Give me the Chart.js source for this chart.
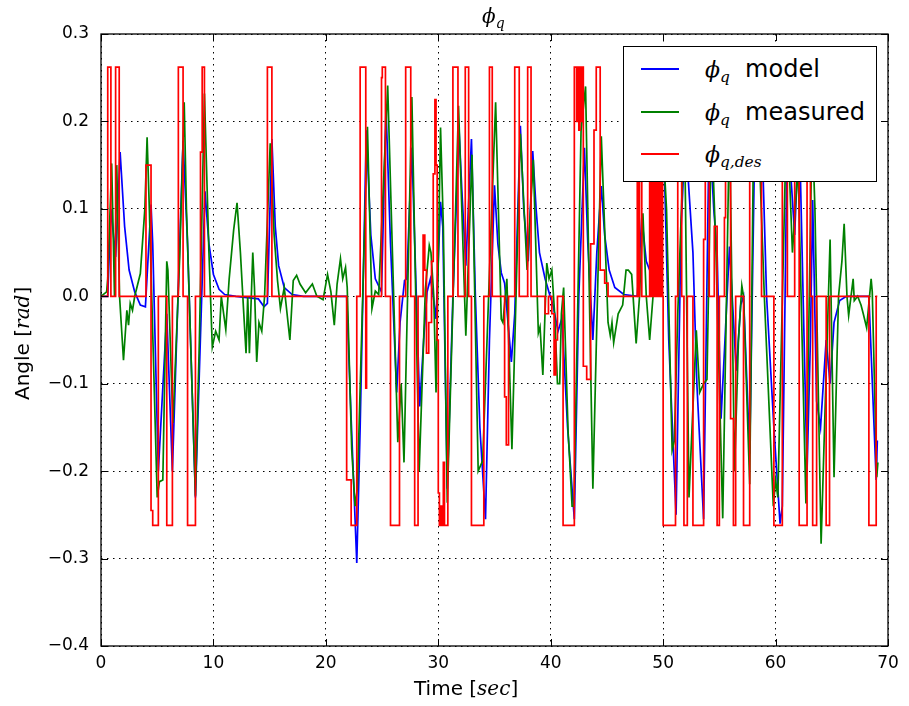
<!DOCTYPE html>
<html>
<head>
<meta charset="utf-8">
<script src="https://cdn.jsdelivr.net/npm/chart.js@4.4.1/dist/chart.umd.min.js"></script>
<style>
  html, body { margin: 0; padding: 0; background: #fff; }
  #wrap { position: relative; width: 909px; height: 706px; overflow: hidden; }
  #c { position: absolute; left: 0; top: 0; }
  .txt { position: absolute; font-family: "DejaVu Sans", sans-serif; color: #000; white-space: nowrap; line-height: 1; }
  .m { font-family: "DejaVu Serif", serif; font-style: italic; }
  .m sub { font-size: 70%; vertical-align: -0.35em; line-height: 0; }
  #legend { position: absolute; left: 623px; top: 46px; width: 254px; height: 136px;
            background: #fff; border: 1px solid #000; box-sizing: border-box; }
  .row { position: absolute; left: 0; height: 30px; width: 100%; }
  .swatch { position: absolute; left: 17px; width: 38px; height: 0; border-top: 2px solid; }
  .lab { position: absolute; left: 81px; font-size: 24px; }
  .lab .m { font-size: 22px; }
</style>
</head>
<body>
<div id="wrap">
  <canvas id="c" width="909" height="706"></canvas>
  <div class="txt" id="title" style="left:482px; top:6px; font-size:20px;"><span class="m">ϕ<sub>q</sub></span></div>
  <div class="txt" id="xlab" style="left:414px; top:678px; font-size:20px;">Time [<span class="m">sec</span>]</div>
  <div class="txt" id="ylab" style="left:-38px; top:330px; font-size:20px; transform: rotate(-90deg); transform-origin: 60px 10px;">Angle [<span class="m">rad</span>]</div>
  <div id="legend">
    <div class="row" style="top:8px;"><div class="swatch" style="top:13px; border-color:#0000ff;"></div>
      <div class="txt lab" style="top:2px;"><span class="m">ϕ<sub>q</sub></span>&nbsp; model</div></div>
    <div class="row" style="top:51px;"><div class="swatch" style="top:13px; border-color:#008000;"></div>
      <div class="txt lab" style="top:2px;"><span class="m">ϕ<sub>q</sub></span>&nbsp; measured</div></div>
    <div class="row" style="top:93px;"><div class="swatch" style="top:13px; border-color:#ff0000;"></div>
      <div class="txt lab" style="top:2px;"><span class="m">ϕ<sub>q,des</sub></span></div></div>
  </div>
</div>
<script>
// desired angle (step signal): switch times [s] and levels [rad]
const desT = [0, 0.6, 0.88, 1.3, 1.62, 4.0, 4.45, 4.6, 5.1, 5.85, 6.35, 6.88, 7.3, 7.7, 8.4, 8.85, 9.0, 9.2,
  14.8, 15.2, 21.85, 22.25, 22.75, 23.05, 23.55, 23.62, 24.95, 25.02, 25.3, 25.75, 26.55, 27.1, 27.55, 27.9, 28.2,
  28.65, 28.8, 28.95, 29.15, 29.4, 29.55, 29.7, 29.8, 29.9, 30.0, 30.1, 30.2, 30.3, 30.45, 30.55, 30.85,
  31.3, 31.75, 32.4, 32.7, 32.95, 34.05, 34.55, 34.8, 35.9, 36.05, 36.25, 36.8, 37.2, 37.95, 38.25,
  39.5, 39.8, 40.1, 40.3, 40.45, 40.6, 41.1, 42.1, 42.3, 42.4, 42.5, 42.6, 42.7, 42.8, 42.9, 43.2, 43.55, 43.85,
  44.05, 44.4, 44.8, 45.1, 47.7, 47.85, 47.9, 48.1, 48.8, 48.95, 49.05, 49.2, 49.3, 49.45, 49.55, 49.7, 49.8,
  49.95, 50.0, 51.1, 51.3, 51.65, 51.85, 52.15, 52.65, 53.6, 53.75, 54.1, 54.55, 54.8, 55.0, 55.45, 55.55,
  56.0, 56.25, 56.45, 57.15, 57.7, 58.75, 59.85, 60.6, 61.05, 61.7, 62.1, 62.8, 63.1, 63.3, 63.65, 64.5, 64.8,
  68.3, 68.95, 69.05];
const desV = [0, 0.262, 0, 0.262, 0, 0.15, -0.245, -0.262, 0, -0.262, 0, 0.262, 0, -0.262, 0, 0.165, 0.262, 0,
  0.262, 0, -0.21, -0.262, 0, 0.262, -0.105, 0, 0.25, 0.262, 0, -0.262, 0, 0.262, 0, -0.262, 0,
  0.07, 0.03, -0.065, -0.03, 0.04, 0.14, 0.225, 0.15, -0.05, -0.225, -0.262, -0.24, -0.262, -0.19, -0.262, 0,
  0.262, 0, 0.262, 0, -0.262, 0, 0.262, 0, -0.115, -0.17, 0, 0.262, 0, 0.262, 0,
  -0.02, 0, -0.02, -0.09, -0.05, 0, -0.262, 0.262, 0.2, 0.262, 0.19, 0.262, 0.2, 0.262, -0.08, -0.095, 0.06, 0.19,
  0.262, 0.03, 0.015, 0, 0.262, 0, 0.262, 0, 0.262, 0, 0.262, 0, 0.262, 0, 0.262, 0, 0.262,
  0, -0.262, 0, 0.262, 0, -0.262, 0, -0.262, 0.065, 0.262, 0, 0.08, -0.262, 0, 0.09, 0.262,
  -0.14, -0.262, 0, -0.262, 0.262, 0, -0.262, 0.262, 0, 0.262, -0.262, 0.262, 0, -0.262, 0, -0.262, 0,
  -0.262, 0, 0];

// model response
const modelT = [0, 0.6, 0.88, 1.3, 1.7, 2.1, 2.5, 3.0, 3.5, 3.95, 4.45, 4.6, 5.1, 5.85, 6.35, 6.9, 7.3, 7.7, 8.4,
  9.25, 9.6, 10.0, 10.5, 11.0, 12.0, 14.0, 14.5, 14.8, 15.2, 15.5, 15.8, 16.3, 17.0, 18.0, 21.85, 22.25, 22.75,
  23.05, 23.6, 24.0, 24.4, 24.95, 25.35, 25.75, 26.3, 26.6, 27.0, 27.2, 27.65, 28.0, 28.35, 28.7, 29.0, 29.3,
  29.5, 29.8, 30.2, 30.4, 30.8, 31.3, 31.85, 32.1, 32.45, 32.95, 33.3, 33.7, 34.2, 34.55, 35.0, 35.3, 35.6,
  35.9, 36.5, 36.8, 37.3, 37.6, 38.0, 38.4, 38.7, 39.0, 39.5, 39.95, 40.2, 40.65, 41.0, 41.5, 42.1, 42.5, 43.0,
  43.3, 43.75, 44.1, 44.5, 44.8, 45.2, 45.7, 46.5, 47.7, 48.1, 48.5, 48.8, 49.4, 50.0, 50.5, 51.15, 51.6, 51.95,
  52.2, 52.65, 53.0, 53.6, 54.1, 54.5, 54.8, 55.15, 55.5, 55.9, 56.5, 56.9, 57.15, 57.7, 58.2, 58.75, 59.2,
  59.85, 60.4, 60.6, 61.05, 61.7, 62.1, 62.8, 63.1, 63.3, 63.65, 64.0, 64.5, 64.85, 65.2, 65.7, 66.3, 68.3,
  68.95, 69.05];
const modelV = [0, 0, 0.1, 0.045, 0.165, 0.08, 0.03, 0.005, -0.01, -0.012, 0.105, 0.06, -0.2, -0.02, -0.2, 0.02,
  0.178, 0.06, -0.23, 0.12, 0.06, 0.025, 0.008, 0.002, 0, -0.003, -0.012, -0.008, 0.18, 0.08, 0.035, 0.01, 0.002,
  0, 0, -0.14, -0.305, -0.15, 0.19, 0.07, 0.02, 0.005, 0.215, 0.06, -0.11, -0.03, 0.018, 0.02, 0.17, 0.02, -0.126,
  -0.05, 0.005, 0.02, 0.005, -0.026, 0.108, 0.08, -0.22, 0.0, 0.19, 0.12, 0.035, 0.18, 0.0, -0.15, -0.255, -0.05,
  0.127, 0.06, 0.027, 0.015, -0.075, -0.02, 0.195, 0.1, 0.04, 0.166, 0.1, 0.05, 0.02, 0.0, -0.01, -0.04, -0.025,
  -0.15, -0.255, 0.0, 0.17, 0.06, -0.05, 0.05, 0.126, 0.07, 0.03, 0.01, 0.002, 0, 0.09, 0.04, 0.03, 0.12, 0.2,
  -0.05, -0.25, 0.08, 0.18, 0.14, 0.05, -0.1, -0.255, 0.2, 0.1, 0.05, -0.14, -0.05, 0.057, -0.085, -0.01, 0.0,
  -0.18, 0.22, 0.2, 0.0, -0.15, -0.26, -0.24, 0.2, 0.07, 0.2, -0.2, -0.05, 0.11, -0.12, -0.15, -0.05, -0.1,
  -0.03, -0.005, 0, 0, -0.21, -0.165];

// measured angle
const measT = [0, 0.5, 0.6, 0.95, 1.2, 1.4, 1.65, 2.0, 2.3, 2.45, 2.6, 2.8, 3.0, 3.5, 3.9, 4.1, 4.3, 5.0, 5.2, 5.5,
  5.85, 5.95, 6.4, 7.0, 7.4, 7.6, 8.4, 8.75, 9.2, 9.6, 9.9, 10.2, 10.5, 10.7, 11.1, 11.4, 11.8, 12.1, 12.4, 12.7,
  12.9, 13.05, 13.2, 13.5, 13.65, 13.85, 14.05, 14.3, 14.55, 15.05, 15.4, 15.7, 15.96, 16.3, 16.5, 16.8, 17.1,
  17.4, 17.7, 18.2, 18.8, 19.2, 19.75, 20.15, 20.45, 20.75, 21.0, 21.3, 21.5, 21.75, 21.9, 22.3, 22.6, 22.8,
  23.7, 24.1, 24.4, 24.7, 25.5, 26.4, 26.7, 26.95, 27.65, 28.3, 28.85, 29.2, 29.35, 29.6, 29.8, 30.2, 30.45,
  30.8, 31.8, 32.45, 33.0, 33.55, 33.95, 35.1, 35.6, 35.75, 36.1, 36.55, 37.3, 37.9, 38.45, 38.9, 39.05, 39.3,
  39.65, 39.85, 40.1, 40.35, 40.6, 40.8, 40.95, 41.15, 41.55, 41.7, 41.9, 42.07, 42.7, 43.1, 43.75, 44.5, 45.1,
  45.3, 45.45, 45.6, 46.0, 46.4, 46.7, 46.9, 47.2, 47.6, 47.9, 48.2, 48.5, 48.8, 49.1, 49.8, 50.3, 50.8, 51.0,
  51.3, 51.9, 52.3, 52.95, 53.25, 53.6, 53.9, 54.3, 54.7, 55.3, 55.9, 56.35, 56.7, 57.0, 57.15, 57.7, 58.1,
  58.4, 59.0, 59.8, 60.0, 60.2, 61.0, 61.5, 62.0, 62.7, 63.25, 63.5, 64.05, 64.85, 65.2, 65.6, 65.9, 66.1,
  66.35, 66.5, 66.9, 67.0, 67.3, 67.6, 67.8, 68.1, 68.5, 68.6, 69.0, 69.1];
const measV = [0, 0.005, 0.02, 0.152, 0.0, 0.15, 0.0, -0.073, -0.016, -0.033, -0.008, -0.016, 0.0, 0.026, 0.1,
  0.182, 0.1, -0.23, -0.212, -0.21, 0.04, 0.03, -0.145, 0.045, 0.222, 0.1, -0.228, -0.05, 0.232, 0.05, -0.058,
  -0.04, -0.05, 0.0, -0.038, 0.02, 0.076, 0.107, 0.05, -0.02, -0.065, 0.0, -0.065, 0.05, 0.01, -0.075, -0.03,
  -0.04, 0.0, 0.175, 0.07, 0.018, -0.014, 0.01, -0.014, -0.05, 0.018, 0.024, 0.014, 0.004, 0.014, 0.0, -0.004,
  0.025, 0.005, -0.033, 0.014, 0.043, 0.02, 0.033, 0.01, -0.175, -0.24, -0.22, 0.194, -0.014, 0.006, 0.002,
  0.241, -0.167, -0.1, -0.19, 0.228, -0.2, 0.008, 0.058, 0.05, 0.0, -0.11, 0.193, 0.08, -0.236, 0.218, -0.045,
  0.162, -0.2, -0.188, 0.222, -0.026, -0.03, 0.02, -0.175, 0.186, 0.03, 0.156, -0.042, -0.035, -0.09, 0.038,
  0.02, 0.03, -0.02, -0.1, -0.1, -0.02, 0.01, -0.156, -0.19, -0.24, -0.24, 0.19, 0.24, -0.22, 0.183, -0.03,
  -0.045, -0.03, -0.053, -0.02, -0.01, 0.03, 0.03, 0.025, -0.054, 0.0, 0.095, 0.0, -0.05, 0.0, 0.22, 0.1,
  -0.176, -0.165, -0.02, 0.2, -0.23, -0.039, -0.11, -0.1, -0.095, 0.2, 0.05, -0.254, 0.2, -0.2, -0.05, 0.012,
  0.0, -0.215, 0.25, 0.22, 0.0, -0.24, -0.21, -0.23, 0.22, 0.05, 0.15, -0.237, 0.2, 0.1, -0.283, 0.065, -0.207,
  0.0, 0.04, 0.083, 0.0, -0.022, 0.02, -0.005, 0.0, -0.01, -0.02, -0.036, 0.02, 0.005, -0.207, -0.19];

const xTicks = [0, 10, 20, 30, 40, 50, 60, 70];
const yTicks = [-0.4, -0.3, -0.2, -0.1, 0.0, 0.1, 0.2, 0.3];

function pts(ts, vs) { return ts.map((t, i) => ({ x: t, y: vs[i] })); }
function fmtY(v) {
  const s = Math.abs(v).toFixed(1);
  return v < -1e-9 ? '\u2212' + s : s;
}

// frame + inward tick marks, matplotlib style
const framePlugin = {
  id: 'frame',
  afterDatasetsDraw(chart) {
    const { ctx, chartArea: a, scales } = chart;
    ctx.save();
    ctx.setLineDash([]);
    ctx.strokeStyle = '#000';
    ctx.lineWidth = 1;
    ctx.beginPath();
    xTicks.forEach(v => {
      const px = Math.round(scales.x.getPixelForValue(v)) + 0.5;
      ctx.moveTo(px, a.bottom); ctx.lineTo(px, a.bottom - 7);
      ctx.moveTo(px, a.top); ctx.lineTo(px, a.top + 7);
    });
    yTicks.forEach(v => {
      const py = Math.round(scales.y.getPixelForValue(v)) + 0.5;
      ctx.moveTo(a.left, py); ctx.lineTo(a.left + 7, py);
      ctx.moveTo(a.right, py); ctx.lineTo(a.right - 7, py);
    });
    ctx.stroke();
    ctx.lineWidth = 1.3;
    ctx.strokeRect(a.left, a.top, a.right - a.left, a.bottom - a.top);
    ctx.restore();
  }
};

const lineDs = (label, data, color, order, stepped) => ({
  label, data, borderColor: color, backgroundColor: color, borderWidth: 1.7,
  pointRadius: 0, tension: 0, fill: false, stepped: stepped, order
});

new Chart(document.getElementById('c'), {
  type: 'line',
  data: {
    datasets: [
      lineDs('des', pts(desT, desV), '#ff0000', 1, true),
      lineDs('measured', pts(measT, measV), '#008000', 2, false),
      lineDs('model', pts(modelT, modelV), '#0000ff', 3, false)
    ]
  },
  options: {
    responsive: false,
    animation: false,
    devicePixelRatio: 1,
    layout: { padding: { left: 0, top: 34, right: 21, bottom: 0 } },
    plugins: { legend: { display: false }, tooltip: { enabled: false }, title: { display: false } },
    scales: {
      x: {
        type: 'linear', min: 0, max: 70,
        afterFit: s => { s.height = 60; },
        afterBuildTicks: s => { s.ticks = xTicks.map(v => ({ value: v })); },
        grid: { color: '#000', lineWidth: 1, drawTicks: false },
        border: { display: false, dash: [1.5, 4.5] },
        ticks: { color: '#000', padding: 7, maxRotation: 0, font: { family: 'DejaVu Sans', size: 17 },
                 callback: v => String(v) }
      },
      y: {
        type: 'linear', min: -0.4, max: 0.3,
        afterFit: s => { s.width = 101; },
        afterBuildTicks: s => { s.ticks = yTicks.map(v => ({ value: v })); },
        grid: { color: '#000', lineWidth: 1, drawTicks: false },
        border: { display: false, dash: [1.5, 4.5] },
        ticks: { color: '#000', padding: 12, font: { family: 'DejaVu Sans', size: 17 }, callback: v => fmtY(v) }
      }
    }
  },
  plugins: [framePlugin]
});
</script>
</body>
</html>
